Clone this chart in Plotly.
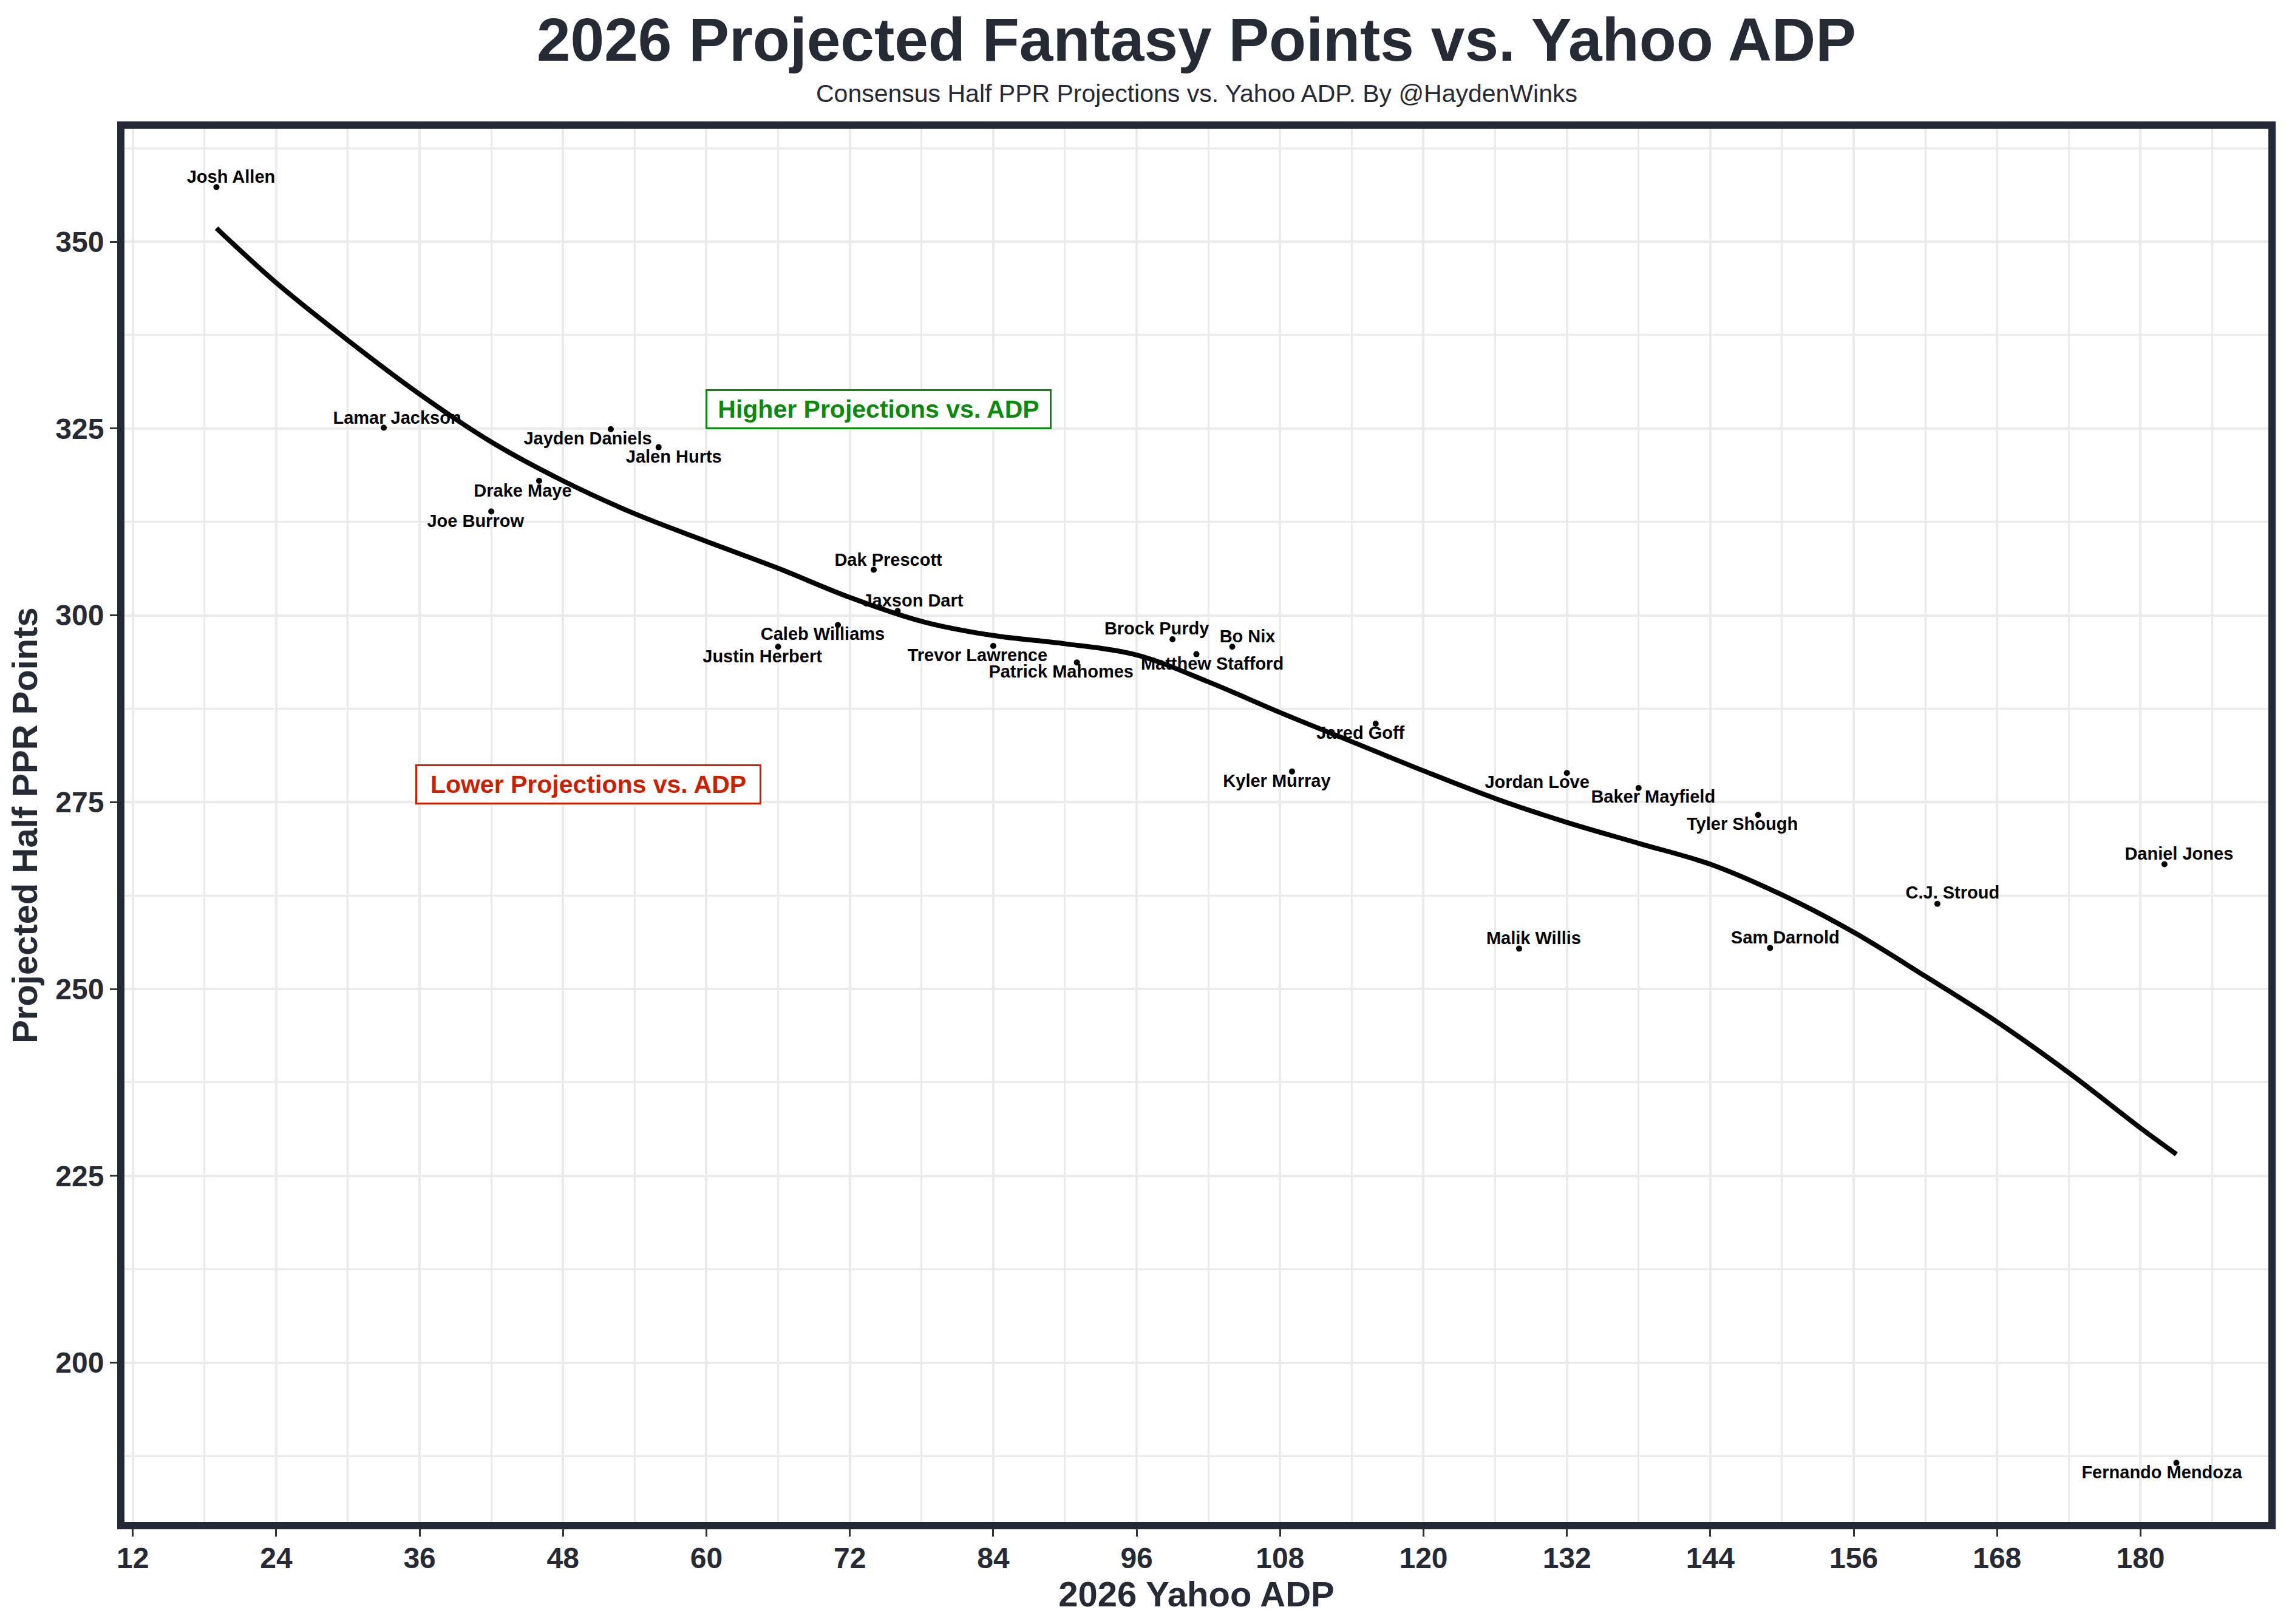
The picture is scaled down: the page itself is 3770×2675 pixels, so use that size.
import plotly.graph_objects as go

# QB data: Yahoo ADP vs projected half PPR points
players = ["Josh Allen", "Lamar Jackson", "Jayden Daniels", "Jalen Hurts", "Drake Maye",
           "Joe Burrow", "Dak Prescott", "Jaxson Dart", "Caleb Williams", "Justin Herbert",
           "Trevor Lawrence", "Patrick Mahomes", "Brock Purdy", "Matthew Stafford", "Bo Nix",
           "Jared Goff", "Kyler Murray", "Jordan Love", "Baker Mayfield", "Tyler Shough",
           "Daniel Jones", "C.J. Stroud", "Malik Willis", "Sam Darnold", "Fernando Mendoza"]
adp = [19, 33, 52, 56, 46,
       42, 74, 76, 71, 66,
       84, 91, 99, 101, 104,
       116, 109, 132, 138, 148,
       182, 163, 128, 149, 183]
proj = [357.3, 325.1, 324.9, 322.5, 318.0,
        313.9, 306.1, 300.6, 298.7, 295.8,
        295.9, 293.7, 296.8, 294.8, 295.8,
        285.5, 279.1, 278.9, 276.9, 273.3,
        266.7, 261.4, 255.4, 255.5, 186.6]

# smoothed trend line
curve_adp = [19, 24, 30, 36, 42, 48, 54, 60, 66, 72, 78, 84, 90, 96, 102,
             108, 114, 120, 126, 132, 138, 144, 150, 156, 162, 168, 174, 180, 183]
curve_pts = [351.8, 344.5, 336.8, 329.6, 323.2, 318.0, 313.6, 309.9, 306.3, 302.4,
             299.2, 297.3, 296.2, 294.7, 291.1, 287.0, 283.1, 279.2, 275.5, 272.3,
             269.5, 266.7, 262.6, 257.6, 251.7, 245.6, 238.8, 231.4, 227.9]

x_ticks = list(range(12, 181, 12))
y_ticks = [200, 225, 250, 275, 300, 325, 350]

# label nudges in screen px (dx right, dy down), like ggrepel placed them
label_nudge = {
    "Josh Allen": (24, -14), "Lamar Jackson": (22, -14), "Jayden Daniels": (-38, 18),
    "Jalen Hurts": (25, 18), "Drake Maye": (-27, 19), "Joe Burrow": (-26, 18),
    "Dak Prescott": (24, -14), "Jaxson Dart": (25, -14), "Caleb Williams": (-25, 17),
    "Justin Herbert": (-26, 18), "Trevor Lawrence": (-26, 18), "Patrick Mahomes": (-26, 18),
    "Brock Purdy": (-26, -15), "Matthew Stafford": (26, 18), "Bo Nix": (25, -15),
    "Jared Goff": (-25, 18), "Kyler Murray": (-25, 18), "Jordan Love": (-49, 17),
    "Baker Mayfield": (24, 17), "Tyler Shough": (-26, 17), "Daniel Jones": (24, -15),
    "C.J. Stroud": (25, -16), "Malik Willis": (24, -15), "Sam Darnold": (25, -15),
    "Fernando Mendoza": (-24, 18),
}

# the page body has an 8px margin, so the figure is 8px smaller than the window
OFF = 8
W, H = 3770 - OFF, 2675 - OFF
ML, MR, MT, MB = 199 - OFF, 28, 206 - OFF, 162
XR = [11.0, 191.0]
YR = [178.2, 365.6]
px_x = (W - ML - MR) / (XR[1] - XR[0])
px_y = (H - MT - MB) / (YR[1] - YR[0])

DARK = "#252A34"
FONT = "Liberation Sans, Arial, sans-serif"

lab_x = [a + label_nudge[p][0] / px_x for p, a in zip(players, adp)]
lab_y = [v - label_nudge[p][1] / px_y for p, v in zip(players, proj)]

fig = go.Figure()

fig.add_trace(go.Scatter(
    x=adp, y=proj, mode="markers",
    marker=dict(color="black", size=10),
    hovertext=players, showlegend=False,
))
fig.add_trace(go.Scatter(
    x=lab_x, y=lab_y, mode="text", text=players,
    textposition="middle center",
    textfont=dict(family=FONT, size=29, color="black", weight="bold"),
    hoverinfo="skip", showlegend=False,
))
fig.add_trace(go.Scatter(
    x=curve_adp, y=curve_pts, mode="lines",
    line=dict(color="black", width=8, shape="spline", smoothing=1.0),
    hoverinfo="skip", showlegend=False,
))

axis_common = dict(
    showgrid=True, gridcolor="#EBEBEB", gridwidth=4,
    zeroline=False, showline=False,
    ticks="outside", ticklen=17, tickwidth=3, tickcolor="#333333",
    tickfont=dict(family=FONT, size=48, color=DARK, weight="bold"),
)

fig.update_xaxes(
    range=XR, tickmode="array", tickvals=x_ticks, ticklabelstandoff=-6,
    minor=dict(tickvals=[t + 6 for t in x_ticks] + [186], showgrid=True,
               gridcolor="#EBEBEB", gridwidth=2.5, ticks=""),
    title=dict(text="2026 Yahoo ADP", standoff=0,
               font=dict(family=FONT, size=58, color=DARK, weight="bold")),
    **axis_common,
)
fig.update_yaxes(
    range=YR, tickmode="array", tickvals=y_ticks,
    minor=dict(tickvals=[187.5, 212.5, 237.5, 262.5, 287.5, 312.5, 337.5, 362.5],
               showgrid=True, gridcolor="#EBEBEB", gridwidth=2.5, ticks=""),
    title=dict(text="Projected Half PPR Points", standoff=14,
               font=dict(family=FONT, size=58, color=DARK, weight="bold")),
    **axis_common,
)

# panel border
fig.add_shape(type="rect", xref="paper", yref="paper", x0=0, x1=1, y0=0, y1=1,
              line=dict(color="#242A35", width=12), layer="above")

fig.add_annotation(
    x=74.4, y=327.6, text="Higher Projections vs. ADP", showarrow=False,
    font=dict(family=FONT, size=41, color="#0B8A0B", weight="bold"),
    bgcolor="white", bordercolor="#0B8A0B", borderwidth=3, borderpad=7, width=550,
)
fig.add_annotation(
    x=50.1, y=277.4, text="Lower Projections vs. ADP", showarrow=False,
    font=dict(family=FONT, size=41, color="#CC1F00", weight="bold"),
    bgcolor="white", bordercolor="#CC1F00", borderwidth=3, borderpad=7, width=550,
)

# subtitle
fig.add_annotation(
    xref="paper", yref="paper", x=0.5, y=(H - MB - (154 - OFF)) / (H - MT - MB),
    text="Consensus Half PPR Projections vs. Yahoo ADP. By @HaydenWinks",
    showarrow=False, xanchor="center", yanchor="middle",
    font=dict(family=FONT, size=41, color=DARK),
)

fig.update_layout(
    title=dict(
        text="2026 Projected Fantasy Points vs. Yahoo ADP",
        x=(ML + (W - ML - MR) / 2) / W, xanchor="center",
        y=1 - (65 - OFF) / H, yanchor="middle", yref="container",
        font=dict(family=FONT, size=100, color=DARK, weight="bold"),
    ),
    width=W, height=H, autosize=False,
    margin=dict(l=ML, r=MR, t=MT, b=MB),
    paper_bgcolor="white", plot_bgcolor="white",
    font=dict(family=FONT, color=DARK),
)

fig.write_html("out.html")
